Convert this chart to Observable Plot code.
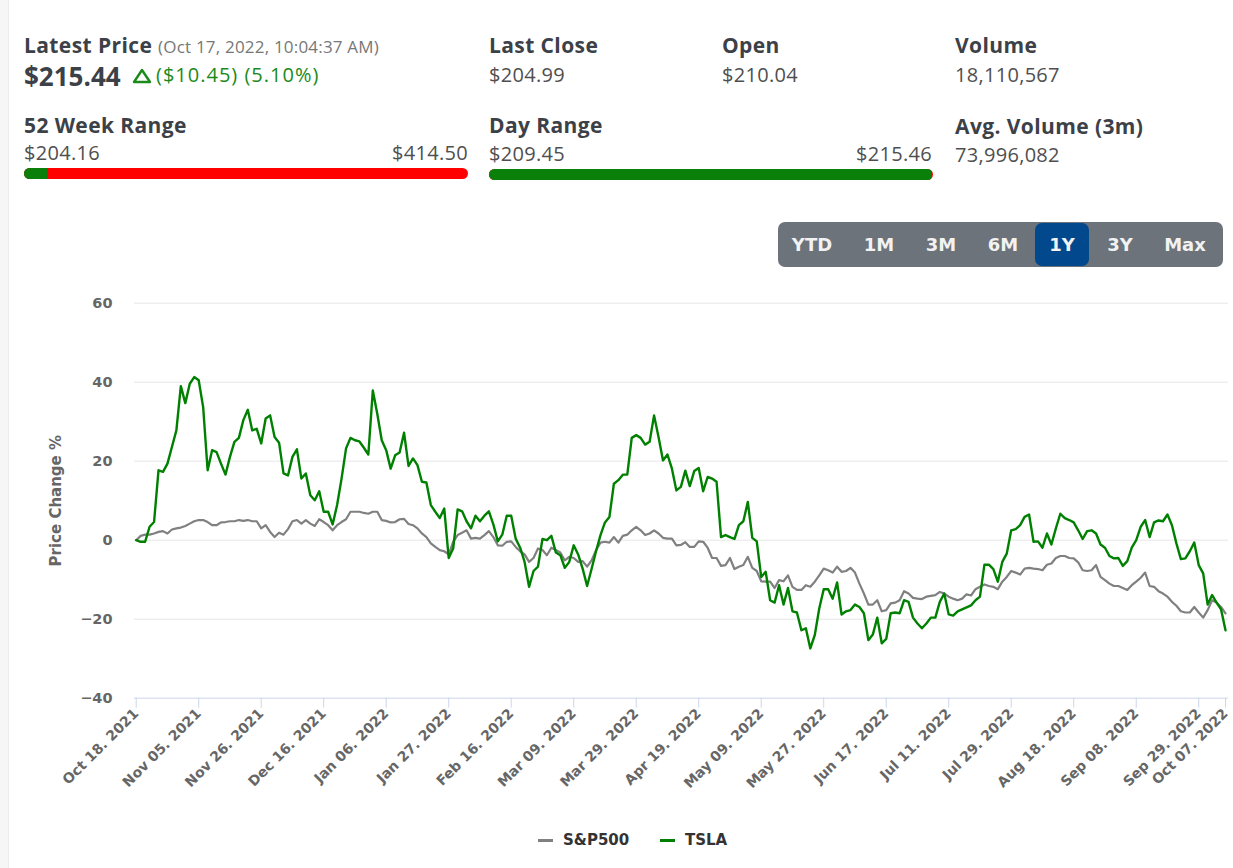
<!DOCTYPE html>
<html>
<head>
<meta charset="utf-8">
<script src="https://cdn.jsdelivr.net/npm/d3@7"></script>
<script src="https://cdn.jsdelivr.net/npm/@observablehq/plot@0.6"></script>
<style>
  html, body { margin:0; padding:0; background:#fff; }
  #page { position:relative; width:1233px; height:868px; overflow:hidden; background:#fff; font-family:"Open Sans", sans-serif; }
  .strip { position:absolute; left:0; top:0; width:8px; height:868px; background:#f6f6f6; border-right:1px solid #ececec; }
  .t { position:absolute; white-space:nowrap; line-height:1; }
  .lab { font-weight:700; font-size:21px; letter-spacing:0.4px; color:#3c4147; }
  .val { font-weight:400; font-size:20px; letter-spacing:0.3px; color:#4f4f4f; }
  .grn { color:#1b8a1b; }
  .bar { position:absolute; height:11px; border-radius:6px; overflow:hidden; }
  #btns { position:absolute; left:778px; top:222px; width:445px; height:45px; background:#6c737b; border-radius:7px; }
  .btn { position:absolute; top:1px; height:43px; line-height:43px; text-align:center; font-family:"DejaVu Sans", sans-serif; font-weight:700; font-size:18px; color:#f2f2f2; border-radius:7px; }
  #chart { position:absolute; left:0; top:280px; }
  .leg { position:absolute; top:831px; font-family:"DejaVu Sans", sans-serif; font-weight:700; font-size:15px; color:#333; line-height:18px; }
  .legline { position:absolute; top:839px; width:15px; height:3px; }
</style>
</head>
<body>
<div id="page">
  <div class="strip"></div>

  <div class="t lab" style="left:24px; top:35px;">Latest Price <span style="font-weight:400; font-size:17px; letter-spacing:0.2px; color:#777;">(Oct 17, 2022, 10:04:37 AM)</span></div>
  <div class="t" style="left:24px; top:63px; font-weight:700; font-size:26px; color:#3c4147;">$215.44</div>
  <svg style="position:absolute; left:132px; top:68px;" width="20" height="16"><polygon points="10,2 18,14 2,14" fill="none" stroke="#1b8a1b" stroke-width="2.4" stroke-linejoin="round"/></svg>
  <div class="t grn" style="left:156px; top:65px; font-size:20px; letter-spacing:1px;">($10.45) (5.10%)</div>

  <div class="t lab" style="left:489px; top:35px;">Last Close</div>
  <div class="t val" style="left:489px; top:65px;">$204.99</div>
  <div class="t lab" style="left:722px; top:35px;">Open</div>
  <div class="t val" style="left:722px; top:65px;">$210.04</div>
  <div class="t lab" style="left:955px; top:35px;">Volume</div>
  <div class="t val" style="left:955px; top:65px;">18,110,567</div>

  <div class="t lab" style="left:24px; top:115px;">52 Week Range</div>
  <div class="t val" style="left:24px; top:143px;">$204.16</div>
  <div class="t val" style="right:765px; top:143px;">$414.50</div>
  <div class="bar" style="left:24px; top:168px; width:444px; background:#ff0000;"><div style="width:23px; height:11px; background:#0a800a;"></div></div>

  <div class="t lab" style="left:489px; top:115px;">Day Range</div>
  <div class="t val" style="left:489px; top:144px;">$209.45</div>
  <div class="t val" style="right:301px; top:144px;">$215.46</div>
  <div class="bar" style="left:489px; top:169px; width:444px; background:#ff0000;"><div style="width:442px; height:11px; background:#0a800a;"></div></div>

  <div class="t lab" style="left:955px; top:116px;">Avg. Volume (3m)</div>
  <div class="t val" style="left:955px; top:145px;">73,996,082</div>

  <div id="btns"></div>
  <div id="chart"></div>

  <div class="legline" style="left:538px; background:#808080;"></div>
  <div class="leg" style="left:563px;">S&amp;P500</div>
  <div class="legline" style="left:660px; background:#008000;"></div>
  <div class="leg" style="left:685px;">TSLA</div>
</div>

<script>
// Range buttons
const rangeButtons = ["YTD", "1M", "3M", "6M", "1Y", "3Y", "Max"];
const activeRange = "1Y";

// X axis: trading-session index of each labelled tick, and its label
const tickSessions = [0, 14, 28, 42, 56, 70, 84, 98, 112, 126, 140, 154, 168, 182, 196, 210, 224, 238, 244];
const tickLabels = ["Oct 18. 2021", "Nov 05. 2021", "Nov 26. 2021", "Dec 16. 2021", "Jan 06. 2022", "Jan 27. 2022",
  "Feb 16. 2022", "Mar 09. 2022", "Mar 29. 2022", "Apr 19. 2022", "May 09. 2022", "May 27. 2022", "Jun 17. 2022",
  "Jul 11. 2022", "Jul 29. 2022", "Aug 18. 2022", "Sep 08. 2022", "Sep 29. 2022", "Oct 07. 2022"];

// Y axis ticks
const yTicks = [-40, -20, 0, 20, 40, 60];

// Series names
const seriesNames = ["S&P500", "TSLA"];

// TSLA price change % per trading session (session 0 = Oct 18, 2021)
const tslaChange = [
  0, -0.4, -0.4, 3.4, 4.6, 17.7, 17.3, 19.4, 23.6, 27.8,
  39, 34.7, 39.6, 41.3, 40.5, 33.7, 17.7, 22.8, 22.3, 19.4,
  16.6, 21.1, 24.9, 25.9, 30.4, 33, 27.8, 28.2, 24.5, 30.8,
  31.6, 26.1, 24.7, 16.9, 16.4, 21.1, 23, 15.6, 16.9, 11.4,
  10.1, 12.4, 7.2, 7.2, 4, 8.9, 15.6, 23.2, 25.9, 25.3,
  25, 23.4, 21.7, 37.9, 32, 25.3, 22.8, 18.1, 21.5, 22.2,
  27.2, 18.8, 20.7, 19, 14.8, 14.6, 8.9, 7.2, 5.6, 8,
  -4.5, -2.1, 7.8, 7.3, 4.8, 3, 6.2, 4.8, 6.2, 7.3,
  4, -0.3, 1.4, 6.2, 6.2, 0.4, -1.9, -5.5, -11.8, -7.8,
  -6.7, 0.3, 0, 1.1, -3.1, -3.8, -7, -5.5, -1.3, -3.6,
  -7.2, -11.6, -7.3, -2.8, 1.3, 4.5, 5.9, 14.3, 15.2, 16.6,
  16.6, 25.9, 26.6, 25.9, 24.2, 24.9, 31.6, 26.1, 20.2, 21.7,
  18.1, 12.6, 13.5, 17.6, 13.7, 17.5, 18.3, 12.4, 16, 15.6,
  14.8, 0.8, 1.3, 0.8, 0.3, 3.8, 4.8, 9.7, 0.6, -0.3,
  -9.3, -8, -15.2, -15.8, -11.4, -16.3, -12.1, -18, -18.3, -22.8,
  -22.3, -27.4, -24, -17.3, -12.4, -12.4, -14.8, -10.7, -18.8, -18,
  -17.7, -16.3, -16.9, -18.5, -25.3, -23.9, -19.6, -26.1, -25, -18.5,
  -18.3, -18.5, -15.2, -15.6, -19.6, -21.1, -22.3, -21.1, -19.6, -19.6,
  -15.6, -13.5, -18.8, -19.1, -18, -17.5, -17, -16.5, -15.2, -14.3,
  -6.2, -6.2, -7.3, -10.5, -5.5, -3.4, 2.5, 2.8, 3.8, 5.9,
  6.5, -0.4, -0.3, -1.9, 1.7, -1.1, 3, 6.7, 5.6, 5.1,
  4.5, 2.5, 0.3, 2.3, 2.5, 1.7, -1.1, -1.9, -4, -4.6,
  -4.5, -6.5, -5.3, -1.9, 0, 3.4, 5.1, 0.8, 4.5, 5,
  4.8, 6.5, 3.8, -0.8, -4.8, -4.6, -2.8, -0.6, -6.3, -8.4,
  -16.3, -13.9, -15.8, -17.5, -22.8
];

// S&P500 price change % per trading session
const spxChange = [
  0, 1.1, 1.4, 1.4, 1.7, 2.1, 2.3, 1.7, 2.7, 3,
  3.2, 3.6, 4.2, 4.8, 5.1, 5.1, 4.6, 3.8, 3.8, 4.5,
  4.6, 4.8, 4.8, 5.1, 4.9, 5.1, 4.8, 4.8, 3, 3.8,
  2.1, 0.8, 1.9, 1.4, 2.8, 4.8, 5.1, 4.2, 5.1, 4.2,
  3.6, 5.3, 4.6, 3.8, 2.5, 3.8, 4.6, 5.3, 7.2, 7.2,
  7.2, 6.9, 6.7, 7.2, 7.2, 5.1, 4.9, 4.5, 4.6, 5.3,
  5.4, 4.1, 3.8, 3, 1.7, 0.8, -0.8, -1.7, -2.5, -2.8,
  -3.6, -0.4, 1.3, 1.9, 2.5, 0.4, 0.6, 0.4, 1.3, 2.3,
  0.8, -1.3, -1.4, -0.4, -0.3, -1.7, -2.8, -3.6, -5.5, -4.5,
  -2.1, -2.5, -3.8, -1.9, -2.5, -3.1, -5.1, -4.2, -4.5, -5.5,
  -5.3, -6.7, -5.1, -2.5, -0.6, -0.4, -0.6, 0.8, -0.6, 1.1,
  1.4, 2.5, 3.4, 2.5, 1.3, 1.7, 2.5, 1.7, 0.6, 0.4,
  0.4, -1.3, -1.2, -0.5, -1.7, -1.7, -0.3, -0.4, -1.9, -4.5,
  -4.5, -6.5, -6.3, -4.5, -7.3, -6.7, -6.3, -4.2, -7, -7.8,
  -10.4, -10.5, -10.5, -12.1, -10.1, -10.4, -8.9, -11.8, -12.6, -12.6,
  -11.4, -11.8, -10.5, -8.9, -7.2, -7.6, -8.2, -6.7, -8, -7.8,
  -7, -8.2, -11, -13.5, -16.3, -16.3, -15.2, -18, -17.7, -16,
  -15.8, -15.2, -12.9, -13.5, -14.6, -14.8, -14.9, -14.3, -14.1, -13.9,
  -13.1, -13.5, -14.3, -14.8, -15.2, -14.8, -13.7, -14, -12.4, -11.8,
  -11.2, -11.6, -11.8, -12.4, -10.5, -9.3, -7.8, -8.2, -8.7, -7.2,
  -7, -7.2, -7.3, -7.6, -6.2, -5.9, -4.5, -4, -4, -4.5,
  -4.6, -5.6, -7.6, -7.8, -7.6, -6.3, -9.3, -10.1, -11, -11.6,
  -11.6, -12.1, -12.6, -11.4, -10.5, -9.5, -8.2, -11.6, -11.8, -12.9,
  -13.5, -14.3, -15.6, -16.6, -18, -18.3, -18.3, -16.9, -18.3, -19.6,
  -17.7, -15.2, -15.8, -16.9, -18.5
];

// Buttons
const btnBox = document.getElementById("btns");
const btnCenters = [34, 101, 163, 225, 284, 342, 407];
const btnWidths = [58, 56, 56, 56, 54, 56, 62];
rangeButtons.forEach((b, i) => {
  const el = document.createElement("div");
  el.className = "btn";
  el.textContent = b;
  el.style.left = (btnCenters[i] - btnWidths[i] / 2) + "px";
  el.style.width = btnWidths[i] + "px";
  if (b === activeRange) el.style.background = "#01488c";
  btnBox.appendChild(el);
});

const rows = [
  ...spxChange.map((v, i) => ({session: i, change: v, series: seriesNames[0]})),
  ...tslaChange.map((v, i) => ({session: i, change: v, series: seriesNames[1]}))
];
const labelOf = new Map(tickSessions.map((s, i) => [s, tickLabels[i]]));
const fmtY = d => d < 0 ? "\u2212" + Math.abs(d) : String(d);

const chart = Plot.plot({
  width: 1233,
  height: 540,
  marginLeft: 134,
  marginRight: 5,
  marginTop: 22.7,
  marginBottom: 122.3,
  style: {fontFamily: "DejaVu Sans, sans-serif", background: "transparent", overflow: "visible"},
  x: {type: "linear", domain: [-0.38, 244.67], axis: null},
  y: {domain: [-40, 60], axis: null},
  marks: [
    Plot.ruleY(yTicks.filter(d => d > -40), {stroke: "#e6e6e6", strokeWidth: 1}),
    Plot.axisY(yTicks, {tickSize: 0, tickPadding: 22, tickFormat: fmtY, fontSize: 14.5, fontWeight: "bold", color: "#666", label: null}),
    Plot.ruleY([-40], {stroke: "#ccd6eb", strokeWidth: 1}),
    Plot.axisX(tickSessions, {tickSize: 10, tickFormat: () => "", color: "#ccd6eb", label: null}),
    Plot.axisX(tickSessions, {tickSize: 0, tickPadding: 13, tickRotate: -45, tickFormat: d => labelOf.get(d), fontSize: 14, fontWeight: "bold", color: "#666", label: null}),
    Plot.line(rows, {filter: d => d.series === seriesNames[0], x: "session", y: "change", stroke: "#808080", strokeWidth: 2.2}),
    Plot.line(rows, {filter: d => d.series === seriesNames[1], x: "session", y: "change", stroke: "#008000", strokeWidth: 2.4}),
    Plot.text(["Price Change %"], {frameAnchor: "left", dx: -78, rotate: -90, textAnchor: "middle", fontSize: 15, fontWeight: "bold", fill: "#666"})
  ]
});
document.getElementById("chart").appendChild(chart);
</script>
</body>
</html>
